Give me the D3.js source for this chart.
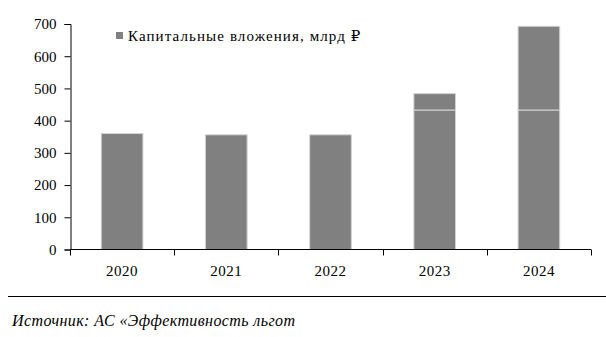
<html>
  <head>
    <style>
      body { margin: 0; background: #fff; }
      text { font-family: 'Liberation Serif', 'DejaVu Serif', serif; }
    </style>
  </head>
  <body>
    <script src="https://d3js.org/d3.v7.min.js"></script>

    <svg id="chart" width="606" height="337"></svg>

    <script>
      const years = ['2020', '2021', '2022', '2023', '2024'];
      // lower part and the upper part of each bar (same series, split at ~433)
      const baseValues = [360, 356, 356, 433, 433];
      const topValues = [0, 0, 0, 51, 260];
      const yTicks = [0, 100, 200, 300, 400, 500, 600, 700];
      const legendLabel = 'Капитальные вложения, млрд ₽';
      const sourceText = 'Источник: АС «Эффективность льгот';

      const svg = d3.select('#chart');

      const x = d3.scaleBand()
        .domain(years)
        .range([70, 591])
        .paddingInner(0.6)
        .paddingOuter(0.3);

      const y = d3.scaleLinear()
        .domain([0, 700])
        .range([249.5, 24]);

      const rows = years.map((yr, i) => ({ year: yr, base: baseValues[i], top: topValues[i] }));

      // bars
      const bars = svg.append('g');
      bars.selectAll('rect.base')
        .data(rows)
        .enter()
        .append('rect')
        .attr('class', 'base')
        .attr('x', (d) => x(d.year))
        .attr('width', x.bandwidth())
        .attr('y', (d) => y(d.base))
        .attr('height', (d) => y(0) - y(d.base))
        .attr('fill', '#808080')
        .attr('stroke', '#d4d4d4')
        .attr('stroke-width', 1);

      bars.selectAll('rect.top')
        .data(rows.filter((d) => d.top > 0))
        .enter()
        .append('rect')
        .attr('class', 'top')
        .attr('x', (d) => x(d.year))
        .attr('width', x.bandwidth())
        .attr('y', (d) => y(d.base + d.top))
        .attr('height', (d) => y(d.base) - y(d.base + d.top))
        .attr('fill', '#808080')
        .attr('stroke', '#d4d4d4')
        .attr('stroke-width', 1);

      // y axis
      const yAxis = svg.append('g')
        .attr('transform', 'translate(70.5,0)')
        .call(d3.axisLeft(y).tickValues(yTicks).tickSize(6).tickPadding(8));
      yAxis.select('.domain').attr('stroke', '#000');
      yAxis.selectAll('text').attr('font-size', 15).attr('fill', '#000')
        .style('font-family', "'Liberation Serif', serif");

      // x axis: ticks at category boundaries
      const xAxisG = svg.append('g').attr('transform', `translate(0,${y(0)})`);
      xAxisG.append('line')
        .attr('x1', x.range()[0])
        .attr('x2', x.range()[1])
        .attr('stroke', '#000');
      const bounds = years.map((yr) => x(yr) - x.step() * 0.3).concat([x.range()[1]]);
      xAxisG.selectAll('line.tick')
        .data(bounds)
        .enter()
        .append('line')
        .attr('class', 'tick')
        .attr('x1', (d) => Math.round(d) + 0.5)
        .attr('x2', (d) => Math.round(d) + 0.5)
        .attr('y1', 0)
        .attr('y2', 6)
        .attr('stroke', '#000');
      xAxisG.selectAll('text')
        .data(years)
        .enter()
        .append('text')
        .text((d) => d)
        .attr('x', (d) => x(d) + x.bandwidth() / 2)
        .attr('y', 26)
        .attr('text-anchor', 'middle')
        .attr('font-size', 15)
        .attr('letter-spacing', 0.5);

      // legend
      svg.append('rect')
        .attr('x', 116)
        .attr('y', 32)
        .attr('width', 7)
        .attr('height', 7)
        .attr('fill', '#808080');
      svg.append('text')
        .text(legendLabel)
        .attr('x', 128)
        .attr('y', 41)
        .attr('font-size', 15)
        .attr('letter-spacing', 1.1);

      // footer
      svg.append('line')
        .attr('x1', 8)
        .attr('x2', 606)
        .attr('y1', 296.5)
        .attr('y2', 296.5)
        .attr('stroke', '#000');
      svg.append('text')
        .text(sourceText)
        .attr('x', 12)
        .attr('y', 326)
        .attr('font-size', 16)
        .attr('font-style', 'italic')
        .attr('letter-spacing', 0.4);
    </script>
  </body>
</html>
